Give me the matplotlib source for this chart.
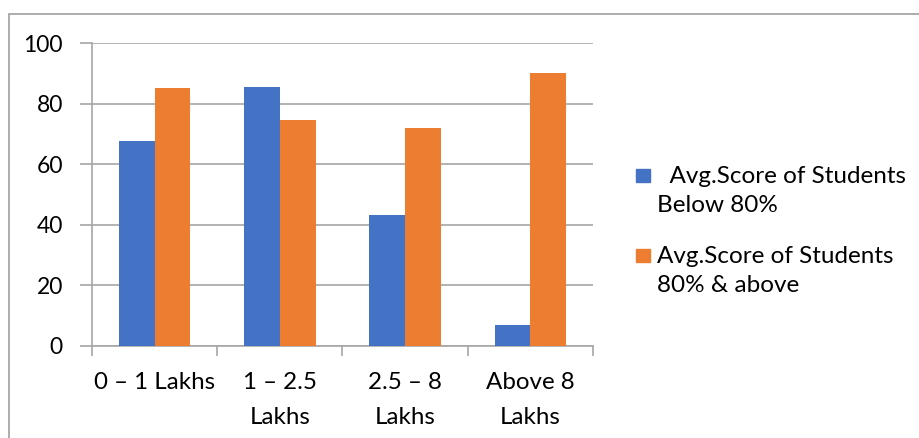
import numpy as np
import matplotlib.pyplot as plt
from matplotlib.patches import Rectangle

# data
categories = ["0 – 1 Lakhs", "1 – 2.5\nLakhs", "2.5 – 8\nLakhs", "Above 8\nLakhs"]
below_80 = [67.7, 85.7, 43.2, 6.9]
above_80 = [85.2, 74.7, 72.1, 90.1]
series_names = ["  Avg.Score of Students\nBelow 80%", "Avg.Score of Students\n80% & above"]
colors = ["#4472C4", "#ED7D31"]
yticks = [0, 20, 40, 60, 80, 100]

plt.rcParams['font.family'] = ['Lato', 'DejaVu Sans']

fig = plt.figure(figsize=(9.2, 4.38), dpi=100)
W, H = 920, 438
ax = fig.add_axes([92 / W, (H - 346) / H, (593 - 92) / W, (346 - 43.3) / H])

x = np.arange(len(categories))
bw = 0.2857
ax.bar(x - bw / 2, below_80, bw, color=colors[0], zorder=3)
ax.bar(x + bw / 2, above_80, bw, color=colors[1], zorder=3)

ax.set_xlim(-0.5, len(categories) - 0.5)
ax.set_ylim(0, 100)
ax.set_yticks(yticks)
ax.set_yticklabels([str(v) for v in yticks], fontsize=16.5)
ax.yaxis.grid(True, color="#A6A6A6", linewidth=1.2, zorder=0)

# category labels centred, ticks on boundaries
ax.set_xticks(x)
ax.set_xticklabels(categories, fontsize=17.4, linespacing=1.8)
ax.set_xticks(np.arange(-0.5, len(categories)), minor=True)
ax.tick_params(axis="x", which="major", length=0, pad=19)
ax.tick_params(axis="x", which="minor", length=7, color="#A6A6A6", width=1.2)
ax.tick_params(axis="y", length=9, color="#A6A6A6", width=1.2, pad=12)

for s in ["top", "right"]:
    ax.spines[s].set_visible(False)
for s in ["left", "bottom"]:
    ax.spines[s].set_color("#A6A6A6")
    ax.spines[s].set_linewidth(1.2)

# legend drawn by hand to match the wrapped layout
leg_y = [175, 255]
for i in range(2):
    fig.patches.append(Rectangle((636 / W, (H - leg_y[i] - 6.5) / H), 14 / W, 13 / H,
                                 transform=fig.transFigure, color=colors[i]))
    fig.text(657 / W, (H - leg_y[i] + 9) / H, series_names[i], fontsize=17.5, va="top",
             linespacing=1.5)

# chart area border
fig.patches.append(Rectangle((8.5 / W, -0.1), 1.2, (H - 13.5) / H + 0.1,
                             transform=fig.transFigure, fill=False,
                             edgecolor="#A0A0A0", linewidth=1.2))

fig.savefig("out.png", dpi=100)
